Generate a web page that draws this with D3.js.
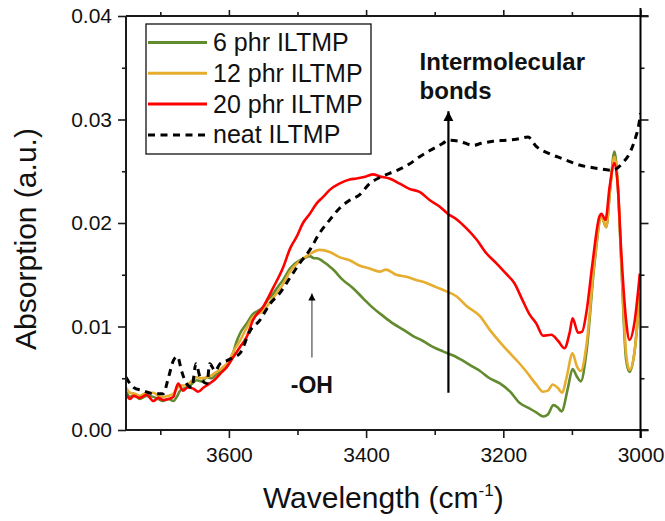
<!DOCTYPE html>
<html>
<head>
<meta charset="utf-8">
<script src="https://cdn.jsdelivr.net/npm/d3@7"></script>
<style>
  body { margin: 0; background: #fff; }
  svg { display: block; font-family: "Liberation Sans", Arial, sans-serif; }
</style>
</head>
<body>
<svg id="chart" width="665" height="521"></svg>
<script>
// [wavenumber, absorbance]
var phr6 = [[3750,0.0038],[3744,0.0032],[3737,0.0034],[3730,0.0030],[3720,0.0033],[3710,0.0032],[3703,0.0030],[3696,0.0028],[3688,0.0030],[3681,0.0028],[3676,0.0032],[3671,0.0038],[3662,0.0041],[3655,0.0044],[3647,0.0048],[3640,0.0047],[3632,0.0051],[3625,0.0050],[3618,0.0054],[3610,0.0057],[3603,0.0061],[3598,0.0067],[3594,0.0074],[3589,0.0085],[3584,0.0093],[3574,0.0103],[3565,0.0112],[3558,0.0115],[3550,0.0119],[3543,0.0126],[3535,0.0132],[3528,0.0139],[3521,0.0145],[3511,0.0156],[3497,0.0164],[3490,0.0166],[3482,0.0168],[3476,0.0166],[3472,0.0166],[3463,0.0163],[3455,0.0159],[3448,0.0155],[3434,0.0145],[3419,0.0137],[3404,0.0127],[3390,0.0118],[3375,0.0110],[3361,0.0103],[3346,0.0097],[3332,0.0091],[3317,0.0086],[3302,0.0080],[3288,0.0076],[3273,0.0072],[3259,0.0067],[3244,0.0061],[3234,0.0057],[3220,0.0050],[3205,0.0045],[3190,0.0037],[3176,0.0026],[3162,0.0021],[3152,0.0017],[3142,0.0013],[3135,0.0015],[3127,0.0024],[3121,0.0022],[3115,0.0018],[3106,0.0040],[3099,0.0059],[3093,0.0052],[3087,0.0047],[3079,0.0074],[3067,0.0161],[3057,0.0206],[3050,0.0196],[3044,0.0235],[3038,0.0269],[3033,0.0235],[3028,0.0161],[3021,0.0068],[3016,0.0056],[3009,0.0074],[3001,0.0132]]

var phr12 = [[3750,0.0041],[3744,0.0036],[3737,0.0035],[3730,0.0033],[3720,0.0036],[3710,0.0036],[3703,0.0033],[3696,0.0032],[3688,0.0033],[3681,0.0035],[3676,0.0040],[3671,0.0043],[3662,0.0043],[3655,0.0047],[3647,0.0051],[3640,0.0050],[3632,0.0051],[3625,0.0053],[3618,0.0056],[3610,0.0060],[3603,0.0064],[3598,0.0069],[3594,0.0075],[3584,0.0086],[3574,0.0099],[3565,0.0109],[3550,0.0115],[3535,0.0128],[3521,0.0141],[3511,0.0153],[3497,0.0163],[3482,0.0170],[3468,0.0174],[3453,0.0172],[3439,0.0167],[3424,0.0164],[3410,0.0159],[3395,0.0156],[3380,0.0153],[3371,0.0155],[3356,0.0150],[3341,0.0148],[3327,0.0145],[3312,0.0142],[3298,0.0138],[3283,0.0134],[3268,0.0129],[3254,0.0120],[3234,0.0110],[3220,0.0097],[3205,0.0085],[3190,0.0074],[3176,0.0064],[3166,0.0056],[3152,0.0044],[3142,0.0037],[3135,0.0038],[3128,0.0044],[3121,0.0041],[3114,0.0036],[3108,0.0050],[3099,0.0074],[3093,0.0062],[3087,0.0057],[3079,0.0081],[3067,0.0164],[3057,0.0206],[3050,0.0196],[3044,0.0235],[3038,0.0264],[3033,0.0235],[3028,0.0164],[3021,0.0074],[3016,0.0058],[3009,0.0074],[3001,0.0132]]

var phr20 = [[3750,0.0035],[3744,0.0030],[3739,0.0033],[3730,0.0031],[3720,0.0034],[3710,0.0028],[3703,0.0031],[3696,0.0029],[3688,0.0030],[3681,0.0032],[3674,0.0045],[3667,0.0038],[3660,0.0041],[3652,0.0040],[3645,0.0037],[3637,0.0041],[3628,0.0045],[3620,0.0049],[3613,0.0054],[3603,0.0061],[3594,0.0070],[3584,0.0080],[3574,0.0090],[3565,0.0106],[3550,0.0119],[3535,0.0138],[3521,0.0157],[3511,0.0175],[3501,0.0187],[3492,0.0200],[3482,0.0209],[3472,0.0219],[3463,0.0225],[3453,0.0232],[3439,0.0238],[3424,0.0242],[3414,0.0243],[3400,0.0245],[3390,0.0247],[3380,0.0245],[3366,0.0243],[3351,0.0238],[3337,0.0233],[3322,0.0230],[3307,0.0222],[3293,0.0216],[3281,0.0209],[3267,0.0203],[3254,0.0195],[3239,0.0184],[3225,0.0171],[3210,0.0161],[3196,0.0151],[3184,0.0142],[3171,0.0124],[3162,0.0112],[3152,0.0103],[3142,0.0091],[3130,0.0092],[3120,0.0086],[3111,0.0079],[3103,0.0095],[3099,0.0108],[3091,0.0094],[3085,0.0095],[3079,0.0113],[3070,0.0161],[3060,0.0206],[3057,0.0209],[3051,0.0203],[3045,0.0235],[3038,0.0258],[3033,0.0235],[3028,0.0171],[3021,0.0106],[3016,0.0087],[3009,0.0103],[3001,0.0151]]

var neat = [[3750,0.0051],[3739,0.0041],[3725,0.0038],[3710,0.0035],[3696,0.0035],[3688,0.0051],[3681,0.0067],[3675,0.0071],[3669,0.0057],[3662,0.0045],[3654,0.0041],[3648,0.0064],[3642,0.0051],[3632,0.0045],[3628,0.0064],[3620,0.0057],[3613,0.0064],[3603,0.0067],[3594,0.0070],[3584,0.0074],[3569,0.0096],[3555,0.0106],[3540,0.0122],[3526,0.0132],[3511,0.0147],[3497,0.0161],[3482,0.0174],[3468,0.0190],[3453,0.0203],[3439,0.0214],[3424,0.0222],[3410,0.0227],[3395,0.0238],[3380,0.0244],[3366,0.0248],[3351,0.0252],[3337,0.0257],[3322,0.0264],[3307,0.0270],[3288,0.0277],[3281,0.0280],[3264,0.0279],[3244,0.0275],[3232,0.0277],[3215,0.0279],[3196,0.0280],[3181,0.0281],[3164,0.0283],[3152,0.0274],[3133,0.0267],[3113,0.0262],[3089,0.0256],[3065,0.0253],[3041,0.0251],[3026,0.0258],[3014,0.0270],[3007,0.0283],[3003,0.0293],[3000,0.0306]]

var seriesNames = ["6 phr ILTMP", "12 phr ILTMP", "20 phr ILTMP", "neat ILTMP"]
var seriesColors = ["#628a2e", "#e6ad2f", "#ff0000", "#000000"]
var xTicks = [3600, 3400, 3200, 3000]
var xMinor = [3700, 3500, 3300, 3100]
var yTicks = [0, 0.01, 0.02, 0.03, 0.04]
var yMinor = [0.005, 0.015, 0.025, 0.035]

var svg = d3.select("#chart")
var L = 126, R = 640.5, T = 16, B = 430

var x = d3.scaleLinear().domain([3750, 3000]).range([L, R])
var y = d3.scaleLinear().domain([0, 0.04]).range([B, T])

svg.append("clipPath").attr("id", "plotclip")
  .append("rect").attr("x", L).attr("y", T).attr("width", R - L).attr("height", B - T)

var line = d3.line()
  .x(function(d){ return x(d[0]) })
  .y(function(d){ return y(d[1]) })
  .curve(d3.curveMonotoneX)

var plot = svg.append("g").attr("clip-path", "url(#plotclip)")
;[phr6, phr12, phr20, neat].forEach(function(s, i){
  plot.append("path")
    .datum(s)
    .attr("d", line)
    .attr("fill", "none")
    .attr("stroke", seriesColors[i])
    .attr("stroke-width", i == 3 ? 3 : 2.6)
    .attr("stroke-linejoin", "round")
    .attr("stroke-dasharray", i == 3 ? "7,5.5" : null)
})

// axes
var styleAxis = function(g){
  g.select(".domain").remove()
  g.selectAll("line").attr("stroke", "#1a1a1a").attr("stroke-width", 1.6)
  g.selectAll("text").attr("fill", "#111").style("font-size", "21px")
}

svg.append("g").attr("transform", "translate(0," + B + ")")
  .call(d3.axisBottom(x).tickValues(xTicks).tickSize(8).tickPadding(9).tickFormat(d3.format("d")))
  .call(styleAxis)
svg.append("g").attr("transform", "translate(0," + B + ")")
  .call(d3.axisBottom(x).tickValues(xMinor).tickSize(5).tickFormat(""))
  .call(styleAxis)
svg.append("g").attr("transform", "translate(" + L + ",0)")
  .call(d3.axisLeft(y).tickValues(yTicks).tickSize(8).tickPadding(6).tickFormat(d3.format(".2f")))
  .call(styleAxis)
svg.append("g").attr("transform", "translate(" + L + ",0)")
  .call(d3.axisLeft(y).tickValues(yMinor).tickSize(4).tickFormat(""))
  .call(styleAxis)
svg.append("g").attr("transform", "translate(0," + T + ")")
  .call(d3.axisTop(x).tickValues(xTicks).tickSize(6).tickFormat(""))
  .call(styleAxis)
svg.append("g").attr("transform", "translate(0," + T + ")")
  .call(d3.axisTop(x).tickValues(xMinor).tickSize(4).tickFormat(""))
  .call(styleAxis)
svg.append("g").attr("transform", "translate(" + R + ",0)")
  .call(d3.axisRight(y).tickValues(yTicks).tickSize(8).tickFormat(""))
  .call(styleAxis)
svg.append("g").attr("transform", "translate(" + R + ",0)")
  .call(d3.axisRight(y).tickValues(yMinor).tickSize(4).tickFormat(""))
  .call(styleAxis)

// frame
var frame = svg.append("g").attr("stroke", "#1a1a1a").attr("stroke-width", 2)
frame.append("line").attr("x1", L).attr("x2", L).attr("y1", T).attr("y2", B)
frame.append("line").attr("x1", L).attr("x2", R + 8).attr("y1", B).attr("y2", B)
frame.append("line").attr("x1", L).attr("x2", R + 8).attr("y1", T).attr("y2", T)
frame.append("line").attr("x1", R).attr("x2", R).attr("y1", T - 8).attr("y2", B + 8).attr("stroke", "#000")

// axis titles
var xt = svg.append("text")
  .attr("x", (L + R) / 2).attr("y", 508)
  .attr("text-anchor", "middle")
  .style("font-size", "30px").attr("fill", "#111")
xt.append("tspan").text("Wavelength (cm")
xt.append("tspan").attr("dy", -12).style("font-size", "17px").text("-1")
xt.append("tspan").attr("dy", 12).text(")")

svg.append("text")
  .attr("transform", "translate(36," + ((T + B) / 2 + 16) + ") rotate(-90)")
  .attr("text-anchor", "middle")
  .style("font-size", "30px").attr("fill", "#111")
  .text("Absorption (a.u.)")

// legend
var leg = svg.append("g")
leg.append("rect").attr("x", 146).attr("y", 24).attr("width", 225).attr("height", 130)
  .attr("fill", "#fff").attr("stroke", "#111").attr("stroke-width", 1.3)
seriesNames.forEach(function(n, i){
  var ly = 42.5 + i * 30.8
  leg.append("line").attr("x1", 148).attr("x2", 207).attr("y1", ly).attr("y2", ly)
    .attr("stroke", seriesColors[i]).attr("stroke-width", 3)
    .attr("stroke-dasharray", i == 3 ? "7,5.5" : null)
  leg.append("text").attr("x", 213).attr("y", ly + 8.5)
    .style("font-size", "25px").attr("fill", "#111").text(n)
})

// annotations
svg.append("defs").append("marker")
  .attr("id", "headBlack").attr("viewBox", "0 0 10 10").attr("refX", 10).attr("refY", 5)
  .attr("markerWidth", 4.5).attr("markerHeight", 5.5).attr("markerUnits", "strokeWidth").attr("orient", "auto")
  .append("path").attr("d", "M0,0 L10,5 L0,10 Z").attr("fill", "#000")

svg.append("line")
  .attr("x1", x(3280)).attr("x2", x(3280)).attr("y1", y(0.0036)).attr("y2", y(0.0308))
  .attr("stroke", "#000").attr("stroke-width", 2.2).attr("marker-end", "url(#headBlack)")
svg.append("line")
  .attr("x1", x(3479)).attr("x2", x(3479)).attr("y1", y(0.0070)).attr("y2", y(0.0132))
  .attr("stroke", "#7a7a7a").attr("stroke-width", 1.6).attr("marker-end", "url(#headBlack)")

var ann = svg.append("text").attr("x", x(3322)).attr("y", 69.5)
  .style("font-size", "24px").style("font-weight", "bold").attr("fill", "#111")
ann.append("tspan").text("Intermolecular")
ann.append("tspan").attr("x", x(3322)).attr("dy", 29).text("bonds")

svg.append("text").attr("x", x(3479)).attr("y", 393).attr("text-anchor", "middle")
  .style("font-size", "23px").style("font-weight", "bold").attr("fill", "#111")
  .text("-OH")
</script>
</body>
</html>
